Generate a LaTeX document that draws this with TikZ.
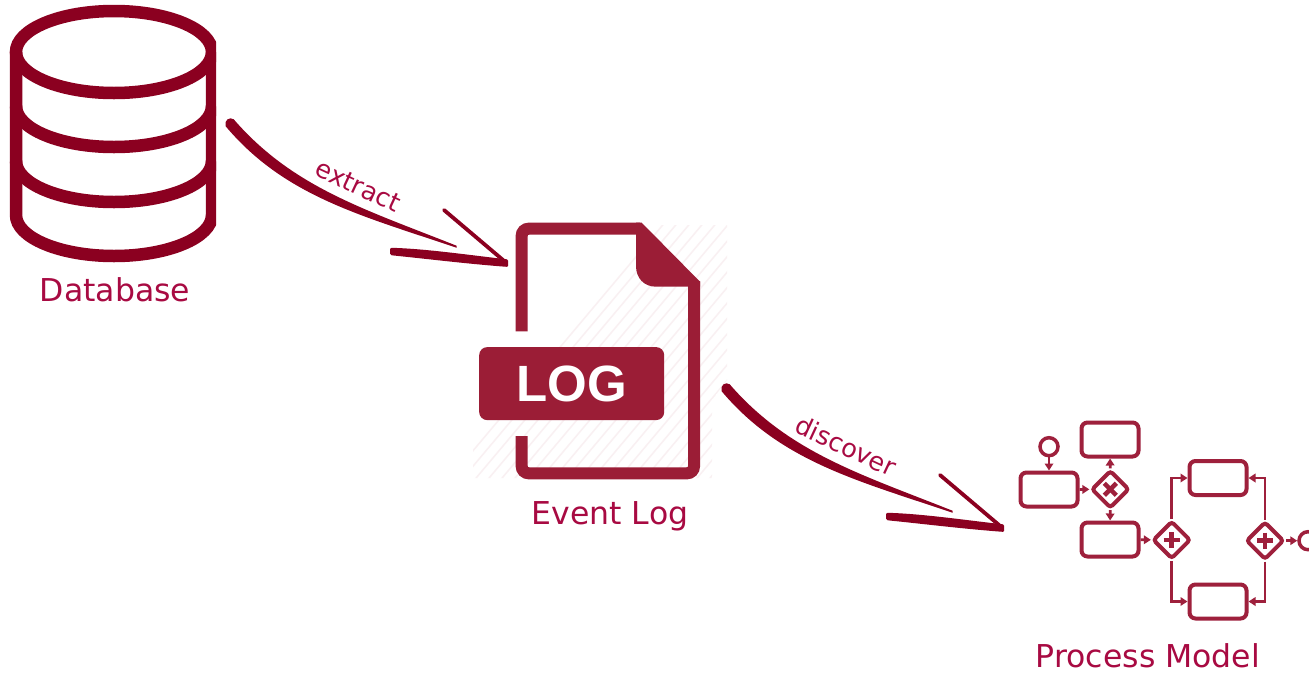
\documentclass[tikz,border=0pt]{standalone}
\usepackage{fontspec}
\setmainfont{DejaVu Sans}
\newfontfamily\logfont{Liberation Sans}
\usetikzlibrary{arrows.meta,shapes.geometric}
\definecolor{dbred}{RGB}{139,0,32}
\definecolor{logred}{RGB}{155,29,54}
\definecolor{textred}{RGB}{168,10,66}
\definecolor{hatchpink}{RGB}{249,240,242}
\definecolor{bpmnred}{RGB}{158,32,60}
\tikzset{
  x=1pt,y=-1pt,
  dbline/.style={draw=dbred,line width=12.5pt},
  logline/.style={draw=logred,line width=12pt},
  caption/.style={text=textred,font=\fontsize{31.5}{36}\selectfont,inner sep=0pt},
  arrowlabel/.style={text=textred,font=\fontsize{25.5}{30}\selectfont,inner sep=0pt},
  task/.style={draw=bpmnred,line width=4pt,rounded corners=6pt,minimum width=57pt,minimum height=34pt,inner sep=0pt},
  gateway/.style={diamond,aspect=1,draw=bpmnred,line width=4pt,rounded corners=3pt,minimum width=38pt,minimum height=38pt,inner sep=0pt},
  bpmnevent/.style={circle,draw=bpmnred,line width=3.5pt,minimum size=18pt,inner sep=0pt},
  flow/.style={draw=bpmnred,line width=2.7pt,-{Triangle[length=7pt,width=8.5pt]}},
  gatemark/.style={draw=bpmnred,line width=4.5pt},
  handarrow/.pic={
    \fill[dbred] (-273,-144) .. controls (-214,-76) and (-143,-54.5) .. (-50,-17.5)
      -- (-50,-15.5) .. controls (-146,-48) and (-222,-67) .. (-281,-137)
      .. controls (-283,-143) and (-277,-147) .. (-273,-144) -- cycle;
    \draw[dbred,line width=3.8pt,line cap=round] (-62.7,-53.3) -- (-1,-1);
    \fill[dbred,draw=dbred,line width=3pt,line join=round]
      (-115,-14) .. controls (-80,-13) and (-40,-7) .. (0,-2.5)
      -- (0,2) .. controls (-40,-1) and (-80,-6) .. (-115,-9.5) -- cycle;
  }
}
\begin{document}
\begin{tikzpicture}
\useasboundingbox (0,0) rectangle (1309,673);
\fill[white] (0,0) rectangle (1309,673);

% Database cylinder
\begin{scope}
  \clip (0,0) rectangle (216,673);
  \draw[dbline] (114,52) ellipse [x radius=98pt,y radius=41pt];
  \draw[dbline] (16,52) -- (16,215) arc[start angle=180,end angle=360,x radius=98pt,y radius=41pt] -- (212,52);
  \draw[dbline] (16,106) arc[start angle=180,end angle=360,x radius=98pt,y radius=41pt];
  \draw[dbline] (16,161) arc[start angle=180,end angle=360,x radius=98pt,y radius=41pt];
\end{scope}
\node[caption] (dblabel) at (115,290) {Database};

% Log file icon
\begin{scope}
  \clip (473,225) -- (727,225) -- (727,380) -- (712,400) -- (712,478) -- (473,478) -- cycle;
  \foreach \k in {0,...,40} {
    \draw[hatchpink,line width=1.5pt] ({440+\k*13},490) -- ({440+\k*13+290},145);
  }
\end{scope}
\draw[logline,rounded corners=7pt] (521.7,331.3) -- (521.7,228.7) -- (640,228.7);
\draw[logline,rounded corners=7pt] (521.7,436) -- (521.7,473.3) -- (694,473.3) -- (694,281);
\fill[logred] (636,222.7) -- (641.7,222.7) -- (700,281.7) -- (700,286.7) -- (656,286.7)
  .. controls (644,286.7) and (636,278) .. (636,266) -- cycle;
\node[fill=logred,rounded corners=8pt,minimum width=185pt,minimum height=73pt,inner sep=0pt] (logbar) at (571.7,383.6) {};
\node[text=white,inner sep=0pt,font=\logfont\bfseries\fontsize{51}{56}\selectfont] (logtext) at (572,384) {LOG};
\node[caption] (loglabel) at (610,516) {Event Log};

% Hand-drawn arrows
\coordinate (extracttip) at (506.7,263.3);
\coordinate (discovertip) at (1002.7,528.3);
\pic at (extracttip) {handarrow};
\pic at (discovertip) {handarrow};
\node[arrowlabel,rotate=-25] (extractlabel) at (358,186) {extract};
\node[arrowlabel,rotate=-25] (discoverlabel) at (846,446) {discover};

% Process model
\begin{scope}
  \clip (0,0) rectangle (1309,673);
  \node[bpmnevent] (start) at (1049,446.7) {};
  \node[task] (taskA) at (1049,489.5) {};
  \node[task] (taskB) at (1110,439.5) {};
  \node[task] (taskC) at (1110,539.5) {};
  \node[task] (taskD) at (1218,478) {};
  \node[task] (taskE) at (1218,601.5) {};
  \node[gateway] (xorgate) at (1110.3,489.3) {};
  \node[gateway] (andA) at (1171.7,540) {};
  \node[gateway] (andB) at (1265,540.7) {};
  \node[bpmnevent] (finish) at (1308,540.7) {};
  \draw[flow] (start) -- (taskA);
  \draw[flow] (taskA) -- (xorgate);
  \draw[flow] (xorgate) -- (taskB);
  \draw[flow] (xorgate) -- (taskC);
  \draw[flow] (taskC) -- (andA);
  \draw[flow] (andA) |- (taskD);
  \draw[flow] (andA) |- (taskE);
  \draw[flow] (andB) |- (taskD);
  \draw[flow] (andB) |- (taskE);
  \draw[flow] (andB) -- (finish);
  \draw[gatemark] ([shift={(-6,-6)}]xorgate.center) -- ([shift={(6,6)}]xorgate.center);
  \draw[gatemark] ([shift={(-6,6)}]xorgate.center) -- ([shift={(6,-6)}]xorgate.center);
  \draw[gatemark] ([shift={(-8,0)}]andA.center) -- ([shift={(8,0)}]andA.center);
  \draw[gatemark] ([shift={(0,-8)}]andA.center) -- ([shift={(0,8)}]andA.center);
  \draw[gatemark] ([shift={(-8,0)}]andB.center) -- ([shift={(8,0)}]andB.center);
  \draw[gatemark] ([shift={(0,-8)}]andB.center) -- ([shift={(0,8)}]andB.center);
\end{scope}
\node[caption] (pmlabel) at (1148,655.5) {Process Model};
\end{tikzpicture}
\end{document}
